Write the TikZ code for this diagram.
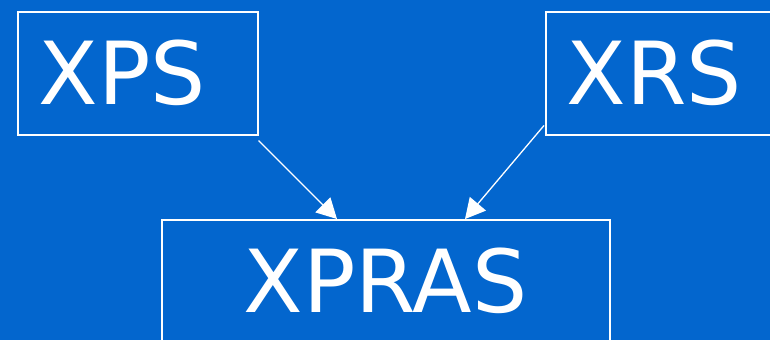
\documentclass[tikz,border=0pt]{standalone}
\usepackage{fontspec}
\setmainfont{DejaVu Sans}
\usetikzlibrary{arrows.meta}

\tikzstyle{unit-box}=[draw=white, line width=1.5pt, text=white, anchor=north west, inner ysep=0pt, inner xsep=21pt, minimum height=123pt, font=\fontsize{87}{87}\selectfont]
\tikzstyle{feeds}=[draw=white, line width=1.3pt, -{Triangle[length=20pt, width=21pt]}]
\definecolor{slide-blue}{HTML}{0366CE}

\begin{document}
\begin{tikzpicture}[x=1pt, y=-1pt]
  \useasboundingbox (0,0) rectangle (770,340);
  \fill[slide-blue] (0,0) rectangle (770,340);
  \clip (0,0) rectangle (770,340);
  \node (xps) at (17,11) [unit-box, text width=198pt, align=left] {XPS};
  \node (xrs) at (545,11) [unit-box, text width=198pt, align=left] {XRS};
  \node (xpras) at (161,219) [unit-box, text width=406pt, align=center] {XPRAS};
  \draw[feeds] ([shift={(0,5)}]xps.south east) -- ([shift={(176,0)}]xpras.north west);
  \draw[feeds] ([shift={(-1,-10)}]xrs.south west) -- ([shift={(304,0)}]xpras.north west);
\end{tikzpicture}
\end{document}
